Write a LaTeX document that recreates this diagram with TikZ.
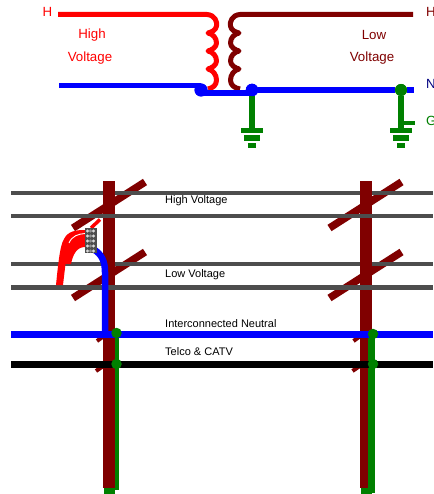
\documentclass[tikz,border=0pt]{standalone}
\usepackage{fontspec}
\setmainfont{Liberation Sans}
\definecolor{wred}{RGB}{255,0,0}
\definecolor{wmaroon}{RGB}{128,0,0}
\definecolor{wblue}{RGB}{0,0,255}
\definecolor{wgreen}{RGB}{0,128,0}
\definecolor{wgrey}{RGB}{77,77,77}
\tikzset{
  redw/.style={draw=wred,line width=5pt,line join=round},
  marw/.style={draw=wmaroon,line width=5pt,line join=round},
  bluw/.style={draw=wblue,line width=5.2pt},
  grnw/.style={draw=wgreen,line width=5.2pt},
  armw/.style={draw=wmaroon,line width=7.5pt},
  polew/.style={fill=wmaroon},
  greyw/.style={draw=wgrey,line width=4.7pt},
  busw/.style={line width=7pt},
  dotb/.style={circle,fill=wblue,inner sep=0pt,minimum size=13pt},
  dotg/.style={circle,fill=wgreen,inner sep=0pt,minimum size=12pt},
  dots/.style={circle,fill=wgreen,inner sep=0pt,minimum size=10.5pt},
  lab/.style={font=\fontsize{13.3}{15}\selectfont,inner sep=0pt},
  sm/.style={font=\fontsize{11}{12}\selectfont,inner sep=0pt,anchor=west,text=black},
}
\begin{document}
\begin{tikzpicture}[x=1pt,y=-1pt]
\useasboundingbox (0,0) rectangle (433,494);
\fill[white] (0,0) rectangle (433,494);
% --- transformer ---
\draw[redw] (58,14.5) -- (207,14.5) .. controls (215,15) and (217.5,22) .. (216.5,26)
  .. controls (216,30) and (212,32) .. (208,33)
  .. controls (213,34) and (216.5,38) .. (216.5,43)
  .. controls (216.5,47) and (212,50) .. (208,51)
  .. controls (213,52) and (216.5,56) .. (216.5,61)
  .. controls (216.5,65) and (212,68) .. (208,69)
  .. controls (213,70) and (216.5,75) .. (216.5,80)
  .. controls (216.5,85) and (213,88) .. (208,89);
\draw[marw] (413,14.5) -- (240,14.5) .. controls (232,15) and (229.5,22) .. (230.5,26)
  .. controls (231,30) and (235,32) .. (239,33)
  .. controls (234,34) and (230.5,38) .. (230.5,43)
  .. controls (230.5,47) and (235,50) .. (239,51)
  .. controls (234,52) and (230.5,56) .. (230.5,61)
  .. controls (230.5,65) and (235,68) .. (239,69)
  .. controls (234,70) and (230.5,75) .. (230.5,80)
  .. controls (230.5,85) and (234,88) .. (240,89);
\node[dotb] (nl) at (201,90) {};
\node[dotb,minimum size=12.5pt] (nc) at (252,90) {};
\node[dotg] (nr) at (401,90) {};
\coordinate (bl) at (59,85.5);
\coordinate (br) at (414,90);
\draw[bluw] (bl) -- (nl.center |- bl);
\draw[bluw] (nl.center) ++(0,3) -- ++(51,0);
\draw[bluw] (nc) -- (nr);
\draw[bluw] (nr) -- (br);
% grounds
\coordinate (g1) at (252,131);
\coordinate (g2) at (401,131);
\coordinate (gs) at (415,123);
\draw[grnw] (nc) -- (g1);
\draw[grnw] (nr) -- (g2);
\draw[wgreen,line width=4.5pt] (401,123) -- (gs);
\foreach \c/\o in {252/0,401/0}{
  \fill[wgreen] (\c-11,128.5) rectangle (\c+11,133.5);
  \fill[wgreen] (\c-8,135.5) rectangle (\c+8,141);
  \fill[wgreen] (\c-4,143) rectangle (\c+4,148);
}
\node[dotb] at (nl) {};
\node[dotb,minimum size=12.5pt] at (nc) {};
\node[dotg] at (nr) {};
% labels
\node[lab,text=wred] (th) at (47.5,12) {H};
\node[lab,text=wred] (thv1) at (92,35) {High};
\node[lab,text=wred] (thv2) at (90,58.5) {Voltage};
\node[lab,text=wmaroon] (tlv1) at (374,35) {Low};
\node[lab,text=wmaroon] (tlv2) at (372,58.5) {Voltage};
\node[lab,text=wmaroon,anchor=west] (th2) at (426,12) {H};
\node[lab,text=blue!50!black,anchor=west] (tn) at (426,84) {N};
\node[lab,text=wgreen,anchor=west] (tg) at (426,121) {G};
% --- poles: cross arms behind everything ---
\foreach \x in {0,256.5}{
  \draw[armw] (145+\x,182) -- (73+\x,228);
  \draw[armw] (145+\x,252) -- (73+\x,298);
  \draw[wmaroon,line width=4pt] (97+\x,341) -- (112+\x,330);
  \draw[wmaroon,line width=4pt] (96+\x,371) -- (112+\x,360);
}
\foreach \y in {193,264}{ \draw[greyw] (11,\y) -- (433,\y); }
% grounds behind poles
\fill[wgreen] (104,480) rectangle (115,494);
\fill[wgreen] (361,480) rectangle (372,494);
\fill[wgreen] (114,336) rectangle (119,490);
% poles
\fill[polew] (103,181) rectangle (115,488);
\fill[polew] (359.5,181) rectangle (372,488);
\foreach \y in {216,287.5}{ \draw[greyw] (11,\y) -- (433,\y); }
% right ground in front of pole
\fill[wgreen] (368,336) rectangle (375,492.5);
% buses
\draw[wblue,busw] (11,334.5) -- (433,334.5);
\draw[black,busw] (11,364.5) -- (433,364.5);
% jumpers
\draw[wred,line width=3.5pt] (91,228) -- (100,219.5);
\fill[wred] (56,285) .. controls (58,265) and (60,245) .. (64,239)
  .. controls (68,231) and (76,230) .. (85,230) -- (85,247)
  .. controls (77,247) and (73,254) .. (71,264) -- (65.5,264) -- (63,285) -- cycle;
\draw[white,line width=0.9pt] (69,243) .. controls (72,236) and (78,234) .. (85,233.5);
\draw[wblue,line width=6.5pt] (93,249) .. controls (102,254) and (105,262) .. (105,272) -- (105,334);
% surge arrester
\fill[wgrey] (84.5,228) rectangle (97,253);
\foreach \yy in {231,236,241,246,251}{
  \foreach \xx in {87.5,93.5}{ \fill[white!85!black] (\xx,\yy) circle (1.7pt); }
  \fill[wgrey!60!white] (90.5,\yy) circle (1.7pt);
}
\node[dots] (d1) at (116.5,333) {};
\node[dots] (d2) at (116.5,364) {};
\node[dots] (d3) at (373,334) {};
\node[dots] (d4) at (373,364) {};
% texts
\node[sm] (s1) at (165,200.5) {High Voltage};
\node[sm] (s2) at (165,275) {Low Voltage};
\node[sm] (s3) at (165,323.5) {Interconnected Neutral};
\node[sm] (s4) at (165,351.5) {Telco \& CATV};
\end{tikzpicture}
\end{document}
